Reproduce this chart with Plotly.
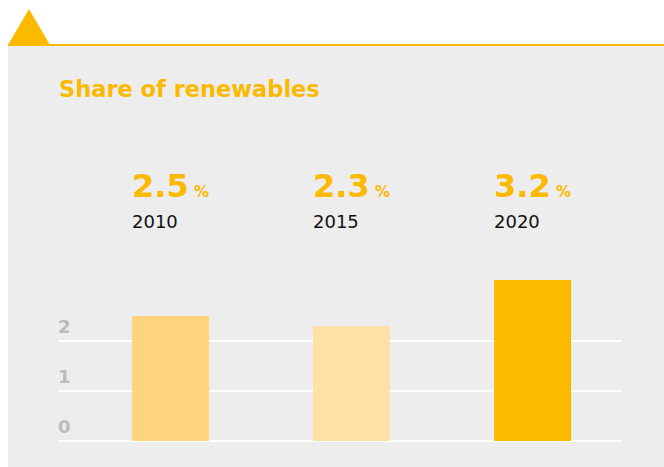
import plotly.graph_objects as go

years = ["2010", "2015", "2020"]
shares = [2.5, 2.3, 3.22]
share_labels = ["2.5", "2.3", "3.2"]
bar_colors = ["#FFD47C", "#FFE1A8", "#FBB900"]
y_ticks = [0, 1, 2]

W, H = 664, 467
L, R, T, B = 58, 42, 271, 21
YELLOW = "#FBB900"
PANEL = "#EDEDED"
FONT = "DejaVu Sans"


def px(x):
    # screen x -> paper x
    return (x - L) / (W - L - R)


def py(y):
    # screen y -> paper y
    return (H - B - y) / (H - T - B)


fig = go.Figure()
fig.add_trace(go.Bar(x=list(range(len(years))), y=shares, width=0.425,
                     marker=dict(color=bar_colors, line_width=0),
                     hoverinfo="skip"))

annotations = [dict(text="<b>Share of renewables</b>", x=px(57), y=py(89),
                    xref="paper", yref="paper", xanchor="left", yanchor="middle",
                    showarrow=False, font=dict(family=FONT, size=22.5, color=YELLOW))]
for i, (yr, lab) in enumerate(zip(years, share_labels)):
    annotations.append(dict(
        text=f"<b>{lab}<span style='font-size:15px'> %</span></b>",
        x=i - 0.2125, y=py(186), xref="x", yref="paper", xanchor="left",
        yanchor="middle", showarrow=False, xshift=-2,
        font=dict(family=FONT, size=32, color=YELLOW)))
    annotations.append(dict(
        text=yr, x=i - 0.2125, y=py(221), xref="x", yref="paper",
        xanchor="left", yanchor="middle", showarrow=False, xshift=-2,
        font=dict(family=FONT, size=18, color="#111111")))

shapes = [
    # white header band above the panel
    dict(type="rect", xref="paper", yref="paper", x0=px(-20), x1=px(W + 20),
         y0=py(46), y1=py(-20), fillcolor="white", line_width=0, layer="below"),
    # white strip left of the panel
    dict(type="rect", xref="paper", yref="paper", x0=px(-20), x1=px(8),
         y0=py(H + 20), y1=py(-20), fillcolor="white", line_width=0, layer="below"),
    # yellow rule
    dict(type="line", xref="paper", yref="paper", x0=px(8), x1=px(W + 20),
         y0=py(45), y1=py(45), line=dict(color=YELLOW, width=2)),
    # triangle
    dict(type="path", xref="paper", yref="paper",
         path=f"M {px(8)},{py(45)} L {px(29)},{py(9)} L {px(50)},{py(45)} Z",
         fillcolor=YELLOW, line_width=0),
]

fig.update_layout(
    width=W, height=H, margin=dict(l=L, r=R, t=T, b=B),
    paper_bgcolor=PANEL, plot_bgcolor="rgba(0,0,0,0)",
    showlegend=False, annotations=annotations, shapes=shapes,
    xaxis=dict(range=[-0.622, 2.494], showgrid=False, zeroline=False,
               showticklabels=False, fixedrange=True),
    yaxis=dict(range=[-0.1, 3.4], tickvals=y_ticks, ticktext=[f"<b>{t}</b>" for t in y_ticks],
               ticklabelposition="inside top", ticklabelstandoff=-3,
               ticklabelshift=-2, ticks="",
               showgrid=True, gridcolor="white", gridwidth=2, zeroline=False,
               fixedrange=True,
               tickfont=dict(family=FONT, size=18, color="#BBBBBB")),
)

fig.write_html("out.html", config={"displayModeBar": False},
               post_script="document.body.style.margin='0px';")
